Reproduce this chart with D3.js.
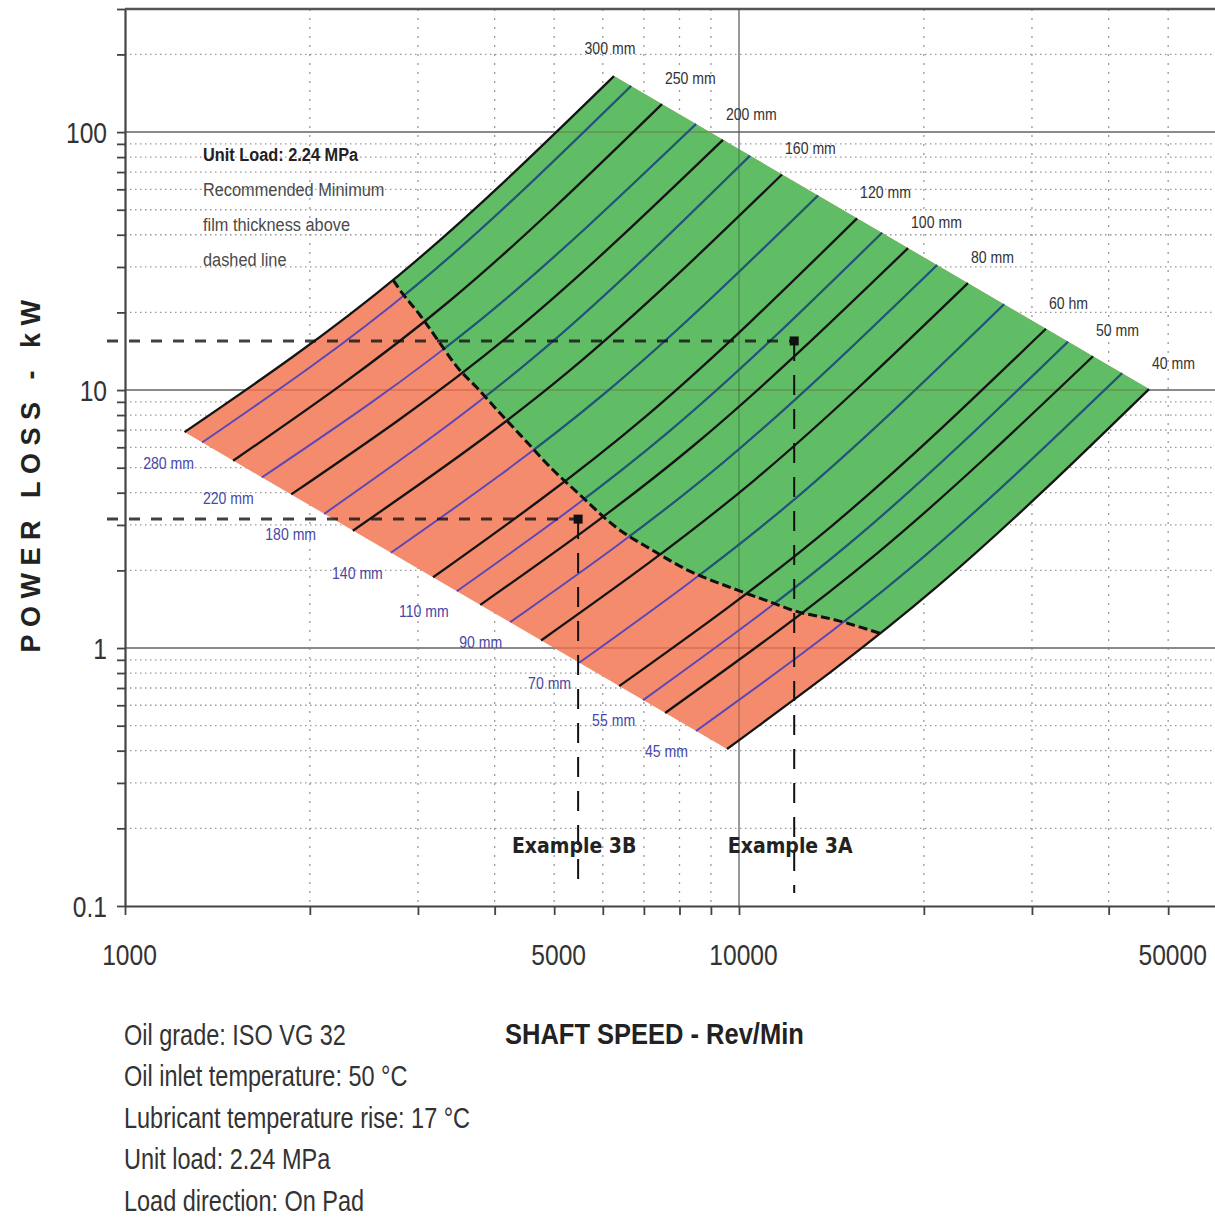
<!DOCTYPE html>
<html>
<head>
<meta charset="utf-8">
<script src="https://cdn.jsdelivr.net/npm/d3@7"></script>
<style>
  html, body { margin: 0; padding: 0; background: #fff; }
  svg { display: block; }
  .narrow { font-family: "Liberation Sans", Arial, sans-serif; }
  .cond { font-family: "DejaVu Sans Condensed", "DejaVu Sans", sans-serif; font-stretch: condensed; font-weight: bold; }
</style>
</head>
<body>
<svg id="chart" width="1215" height="1217"></svg>
<script>
// bearing diameters (mm), largest first; even index = black curve, odd = blue curve
const diameters = [300, 280, 250, 220, 200, 180, 160, 140, 120, 110, 100, 90, 80, 70, 60, 55, 50, 45, 40];

// shaft speed (rev/min) and power loss (kW) at start, middle and end of each curve
const startSpeed = [1250, 1335, 1500, 1670, 1865, 2110, 2350, 2710, 3175, 3470, 3790, 4240, 4760, 5490, 6380, 6980, 7580, 8510, 9560];
const startPower = [6.87, 6.26, 5.32, 4.58, 3.94, 3.31, 2.85, 2.34, 1.88, 1.66, 1.47, 1.26, 1.07, 0.877, 0.712, 0.628, 0.56, 0.477, 0.406];
const midSpeed = [2795, 2984, 3351, 3772, 4190, 4688, 5256, 6037, 7029, 7706, 8447, 9437, 10600, 12180, 14200, 15480, 16900, 18920, 21090];
const midPower = [27.9, 25.5, 21.8, 18.5, 16.0, 13.7, 11.7, 9.69, 7.86, 6.93, 6.11, 5.25, 4.48, 3.69, 2.99, 2.66, 2.36, 2.02, 1.74];
const endSpeed = [6257, 6671, 7491, 8511, 9417, 10420, 11750, 13450, 15570, 17100, 18850, 21010, 23600, 27020, 31620, 34340, 37720, 42060, 46540];
const endPower = [164.8, 150.9, 128.3, 107.4, 93.3, 81.0, 68.5, 56.8, 46.3, 40.7, 35.5, 30.5, 25.96, 21.5, 17.28, 15.4, 13.52, 11.62, 10.09];

// labels at the upper end of the black curves / lower end of the blue curves
const topLabels = ["300 mm", "250 mm", "200 mm", "160 mm", "120 mm", "100 mm", "80 mm", "60 hm", "50 mm", "40 mm"];
const bottomLabels = ["280 mm", "220 mm", "180 mm", "140 mm", "110 mm", "90 mm", "70 mm", "55 mm", "45 mm"];

// recommended minimum film thickness boundary (dashed)
const filmSpeed = [2733, 2805, 3024, 3258, 3473, 3744, 4080, 4482, 4979, 5447, 6328, 7216, 8229, 9924, 11230, 12240, 14440, 16970];
const filmPower = [26.7, 24.4, 19.5, 15.2, 12.3, 10.2, 8.14, 6.40, 4.90, 4.02, 2.92, 2.40, 2.01, 1.68, 1.51, 1.40, 1.28, 1.14];

// worked examples
const exampleNames = ["Example 3A", "Example 3B"];
const exampleSpeed = [12300, 5470];
const examplePower = [15.5, 3.16];

// axes
const xTickLabels = [1000, 5000, 10000, 50000];
const yTickLabels = [0.1, 1, 10, 100];
const xTitle = "SHAFT SPEED - Rev/Min";
const yTitle = "POWER LOSS - kW";

const noteTitle = "Unit Load: 2.24 MPa";
const noteLines = ["Recommended Minimum", "film thickness above", "dashed line"];
const conditions = ["Oil grade: ISO VG 32", "Oil inlet temperature: 50 \u00B0C", "Lubricant temperature rise: 17 \u00B0C", "Unit load: 2.24 MPa", "Load direction: On Pad"];

const ORANGE = "#F38B6C";
const GREEN = "#61BD65";

const svg = d3.select("#chart");
const defs = svg.append("defs");

const x = d3.scaleLog().domain([1000, 59600]).range([125, 1215]);
const y = d3.scaleLog().domain([0.1, 300]).range([906, 9]);
const [x0, x1] = x.range();
const [y0, y1] = y.range();

const isDecade = (v) => Math.abs(Math.log10(v) - Math.round(Math.log10(v))) < 1e-9;

// no narrow face installed: squeeze the regular one horizontally
function squeeze(sel, sx) {
  sel.each(function () {
    const t = d3.select(this);
    const xv = +(t.attr("x") || 0);
    const dx = +(t.attr("dx") || 0);
    t.attr("x", xv / sx).attr("dx", dx / sx).attr("transform", `scale(${sx},1)`);
  });
}

// minor dotted grid
const grid = svg.append("g").attr("class", "grid");
grid.selectAll(".vminor")
  .data(x.ticks().filter((v) => !isDecade(v)))
  .join("line")
  .attr("class", "vminor")
  .attr("x1", (d) => x(d)).attr("x2", (d) => x(d))
  .attr("y1", y1).attr("y2", y0)
  .attr("stroke", "#999").attr("stroke-width", 1.3)
  .attr("stroke-dasharray", "2,7");
grid.selectAll(".hminor")
  .data(y.ticks().filter((v) => !isDecade(v) && v < 299))
  .join("line")
  .attr("class", "hminor")
  .attr("x1", x0).attr("x2", x1)
  .attr("y1", (d) => y(d)).attr("y2", (d) => y(d))
  .attr("stroke", "#999").attr("stroke-width", 1.3)
  .attr("stroke-dasharray", "1.5,3.5");

// major grid
const majorH = [1, 10, 100];
const majorV = [10000];
grid.selectAll(".hmajor").data(majorH).join("line")
  .attr("class", "hmajor")
  .attr("x1", x0).attr("x2", x1)
  .attr("y1", (d) => y(d)).attr("y2", (d) => y(d))
  .attr("stroke", "#8a8a8a").attr("stroke-width", 2);
grid.selectAll(".vmajor").data(majorV).join("line")
  .attr("class", "vmajor")
  .attr("x1", (d) => x(d)).attr("x2", (d) => x(d))
  .attr("y1", y1).attr("y2", y0)
  .attr("stroke", "#555").attr("stroke-width", 1.2);

// curves
const curves = diameters.map((d, i) => [
  [startSpeed[i], startPower[i]],
  [midSpeed[i], midPower[i]],
  [endSpeed[i], endPower[i]],
]);
const lineGen = d3.line().x((d) => x(d[0])).y((d) => y(d[1])).curve(d3.curveNatural);

// operating region: largest curve, upper edge, smallest curve back, lower edge
const regionD =
  lineGen(curves[0]) +
  lineGen(curves[curves.length - 1].slice().reverse()).replace(/^M/, "L") +
  "Z";

// area above the film-thickness line (extended past both edges, then clipped)
const film = filmSpeed.map((s, i) => [s, filmPower[i]]);
const reflect = (a, b) => [(a[0] * a[0]) / b[0], (a[1] * a[1]) / b[1]];
const head = reflect(film[0], film[1]);
const tail = reflect(film[film.length - 1], film[film.length - 2]);
const filmGen = d3.line().x((d) => x(d[0])).y((d) => y(d[1])).curve(d3.curveMonotoneX);
const greenD =
  filmGen([head, ...film, tail]) +
  `L${x1},${y(tail[1])}L${x1},${y1}L${x(head[0])},${y1}Z`;

defs.append("clipPath").attr("id", "clip-region").append("path").attr("d", regionD);
defs.append("clipPath").attr("id", "clip-green").append("path").attr("d", greenD);

svg.append("path").attr("d", regionD).attr("fill", ORANGE);
svg.append("g").attr("clip-path", "url(#clip-region)")
  .append("path").attr("d", greenD).attr("fill", GREEN);

// major grid showing faintly through the region
const overlay = svg.append("g").attr("clip-path", "url(#clip-region)");
overlay.selectAll("line.h").data(majorH).join("line")
  .attr("class", "h")
  .attr("x1", x0).attr("x2", x1)
  .attr("y1", (d) => y(d)).attr("y2", (d) => y(d))
  .attr("stroke", "rgba(120,0,0,0.16)").attr("stroke-width", 2);
overlay.selectAll("line.v").data(majorV).join("line")
  .attr("class", "v")
  .attr("x1", (d) => x(d)).attr("x2", (d) => x(d))
  .attr("y1", y1).attr("y2", y0)
  .attr("stroke", "rgba(0,0,0,0.35)").attr("stroke-width", 1);

// diameter curves
svg.append("g").selectAll("path")
  .data(curves)
  .join("path")
  .attr("d", lineGen)
  .attr("fill", "none")
  .attr("stroke", (d, i) => (i % 2 === 0 ? "#141414" : "#5a46b8"))
  .attr("stroke-width", (d, i) => (i % 2 === 0 ? 2.3 : 1.9));

// blue curves look teal over the green part
svg.append("g").attr("clip-path", "url(#clip-green)")
  .selectAll("path")
  .data(curves.filter((d, i) => i % 2 === 1))
  .join("path")
  .attr("d", lineGen)
  .attr("fill", "none")
  .attr("stroke", "#1d5a70")
  .attr("stroke-width", 2.1);

// film-thickness boundary
svg.append("path")
  .attr("d", filmGen(film))
  .attr("fill", "none")
  .attr("stroke", "#111")
  .attr("stroke-width", 3)
  .attr("stroke-dasharray", "9,4");

// worked examples
const ex = svg.append("g");
exampleSpeed.forEach((s, i) => {
  const px = x(s), py = y(examplePower[i]);
  ex.append("line")
    .attr("x1", x0 - 18).attr("x2", px).attr("y1", py).attr("y2", py)
    .attr("stroke", "#111").attr("stroke-opacity", 0.8)
    .attr("stroke-width", 3).attr("stroke-dasharray", "11,11");
  ex.append("line")
    .attr("x1", px).attr("x2", px).attr("y1", py).attr("y2", y0 - 13)
    .attr("stroke", "#111").attr("stroke-width", 2)
    .attr("stroke-dasharray", "20,14");
  ex.append("rect")
    .attr("x", px - 4.5).attr("y", py - 4.5)
    .attr("width", 9).attr("height", 9)
    .attr("fill", "#111");
  ex.append("text")
    .attr("class", "cond")
    .attr("x", px - 4).attr("y", y0 - 53)
    .attr("text-anchor", "middle")
    .attr("font-size", 21)
    .attr("fill", "#222")
    .text(exampleNames[i]);
});

// curve labels
const lab = svg.append("g").attr("class", "narrow").attr("font-size", 16);
curves.filter((d, i) => i % 2 === 0).forEach((c, j) => {
  const e = c[2];
  lab.append("text")
    .attr("x", x(e[0]) + (j === 0 ? -4 : 3))
    .attr("y", y(e[1]) - (j === 0 ? 22 : 20))
    .attr("text-anchor", j === 0 ? "middle" : "start")
    .attr("fill", "#333")
    .text(topLabels[j]);
});
curves.filter((d, i) => i % 2 === 1).forEach((c, j) => {
  const s = c[0];
  lab.append("text")
    .attr("x", x(s[0]) - 8)
    .attr("y", y(s[1]) + 26)
    .attr("text-anchor", "end")
    .attr("fill", "#4848a8")
    .text(bottomLabels[j]);
});
squeeze(lab.selectAll("text"), 0.88);

// axes
const yAxis = d3.axisLeft(y)
  .tickValues(y.ticks())
  .tickSize(8).tickSizeOuter(0).tickPadding(11)
  .tickFormat((d) => (yTickLabels.includes(d) ? d3.format("~g")(d) : ""));
const xAxis = d3.axisBottom(x)
  .tickValues(x.ticks())
  .tickSize(9).tickSizeOuter(0).tickPadding(29)
  .tickFormat((d) => (xTickLabels.includes(d) ? String(d) : ""));

const gy = svg.append("g").attr("transform", `translate(${x0},0)`).call(yAxis);
const gx = svg.append("g").attr("transform", `translate(0,${y0})`).call(xAxis);
[gx, gy].forEach((g) => {
  g.select(".domain").attr("stroke", "#444").attr("stroke-width", 2.2);
  g.selectAll(".tick line").attr("stroke", "#444").attr("stroke-width", 1.8);
  g.selectAll(".tick text")
    .attr("class", "narrow")
    .attr("font-size", 30)
    .attr("fill", "#333");
});
gx.selectAll(".tick text").attr("dx", 4);
gy.selectAll(".tick text").attr("x", -18).attr("dy", "0.36em");
squeeze(gx.selectAll(".tick text"), 0.82);
squeeze(gy.selectAll(".tick text"), 0.82);

// top frame line
svg.append("line")
  .attr("x1", x0).attr("x2", x1).attr("y1", y1).attr("y2", y1)
  .attr("stroke", "#555").attr("stroke-width", 2.5);

// axis titles
svg.append("text")
  .attr("transform", `translate(31,${(y0 + y1) / 2 + 15}) rotate(-90)`)
  .attr("text-anchor", "middle")
  .attr("dominant-baseline", "central")
  .attr("font-family", "Liberation Sans, Arial, sans-serif")
  .attr("font-weight", "bold")
  .attr("font-size", 27)
  .attr("letter-spacing", 7.5)
  .attr("fill", "#222")
  .text(yTitle);

const xt = svg.append("text")
  .attr("class", "narrow")
  .attr("x", 505).attr("y", 1044)
  .attr("font-weight", "bold")
  .attr("font-size", 30)
  .attr("fill", "#222")
  .text(xTitle);
squeeze(xt, 0.85);

// region note
const note = svg.append("g").attr("class", "narrow").attr("font-size", 19);
note.append("text")
  .attr("x", 203).attr("y", 161)
  .attr("font-weight", "bold")
  .attr("fill", "#222")
  .text(noteTitle);
note.selectAll(".ln").data(noteLines).join("text")
  .attr("class", "ln")
  .attr("x", 203).attr("y", (d, i) => 196 + i * 35)
  .attr("fill", "#4a4a4a")
  .text((d) => d);
squeeze(note.selectAll("text"), 0.86);

// operating conditions
const cond = svg.append("g").attr("class", "narrow").attr("font-size", 29);
cond.selectAll("text").data(conditions).join("text")
  .attr("x", 124).attr("y", (d, i) => 1045 + i * 41.5)
  .attr("fill", "#333")
  .text((d) => d);
squeeze(cond.selectAll("text"), 0.81);
</script>
</body>
</html>
